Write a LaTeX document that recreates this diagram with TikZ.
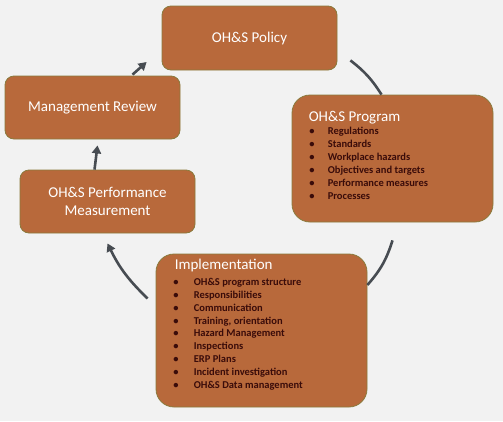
\documentclass[tikz,border=0pt]{standalone}
\usepackage{fontspec}
\setmainfont{Carlito}
\usetikzlibrary{arrows.meta}
\definecolor{boxfill}{HTML}{B8693B}
\definecolor{boxline}{HTML}{8A7A3C}
\definecolor{itemtext}{HTML}{3A0C0A}
\definecolor{linkgray}{HTML}{474C52}
\definecolor{backgray}{HTML}{F2F2F2}
\tikzset{
  box/.style={draw=boxline, line width=0.8pt, fill=boxfill, rounded corners=9pt,
    text=white, font=\fontsize{15}{18}\selectfont, align=center, inner sep=0pt},
  bigbox/.style={box, rounded corners=18pt},
  heading/.style={anchor=base west, inner sep=0pt, text=white, font=\fontsize{15}{18}\selectfont},
  itemlist/.style={anchor=base west, inner sep=0pt, text=itemtext},
  link/.style={draw=linkgray, line width=2.6pt},
  arrowlink/.style={link, -{Triangle[length=8pt,width=9pt]}},
}
\begin{document}
\begin{tikzpicture}[x=1pt,y=-1pt]
    \fill[backgray] (0,0) rectangle (503,421);
    \useasboundingbox (0,0) rectangle (503,421);
    % boxes
    \node[box, minimum width=175pt, minimum height=64pt] (policy) at (249.5,38) {OH\&S Policy};
    \node[box, minimum width=175pt, minimum height=63pt] (review) at (92.5,107.5) {Management Review};
    \node[box, minimum width=175pt, minimum height=63pt] (perf) at (107.5,201.5) {OH\&S Performance\\Measurement};
    \node[bigbox, minimum width=201pt, minimum height=127pt] (program) at (392.5,158.5) {};
    \node[bigbox, minimum width=211pt, minimum height=153pt] (impl) at (261.5,330.5) {};
    % program contents
    \node[heading] (programtitle) at ([shift={(17,26.7)}]program.north west) {OH\&S Program};
    \node[itemlist, font=\bfseries\fontsize{10.5}{13}\selectfont] (programlist) at ([shift={(17.5,39.5)}]program.north west) {%
        \begin{tabular}[t]{@{}p{18.5pt}@{}l@{}}
        • & Regulations\\
        • & Standards\\
        • & Workplace hazards\\
        • & Objectives and targets\\
        • & Performance measures\\
        • & Processes
        \end{tabular}};
    % implementation contents
    \node[heading] (impltitle) at ([shift={(19,16)}]impl.north west) {Implementation};
    \node[itemlist, font=\bfseries\fontsize{10.5}{12.9}\selectfont] (impllist) at ([shift={(17.5,31.7)}]impl.north west) {%
        \begin{tabular}[t]{@{}p{20.5pt}@{}l@{}}
        • & OH\&S program structure\\
        • & Responsibilities\\
        • & Communication\\
        • & Training, orientation\\
        • & Hazard Management\\
        • & Inspections\\
        • & ERP Plans\\
        • & Incident investigation\\
        • & OH\&S Data management
        \end{tabular}};
    % cycle
    \draw[link] ([shift={(13,-10)}]policy.south east) to[bend left=10] ([xshift=-11]program.north);
    \draw[link] ([yshift=-18]program.south) to[bend left=12] ([yshift=45.5]impl.east);
    \draw[arrowlink] ([shift={(-8,-32)}]impl.west) to[bend left=10] ([yshift=-10]perf.south);
    \draw[arrowlink] ([xshift=-13]perf.north) -- ([shift={(5,6)}]review.south);
    \draw[arrowlink] ([shift={(40,-1)}]review.north) -- ([shift={(-15,24)}]policy.west);
\end{tikzpicture}
\end{document}
